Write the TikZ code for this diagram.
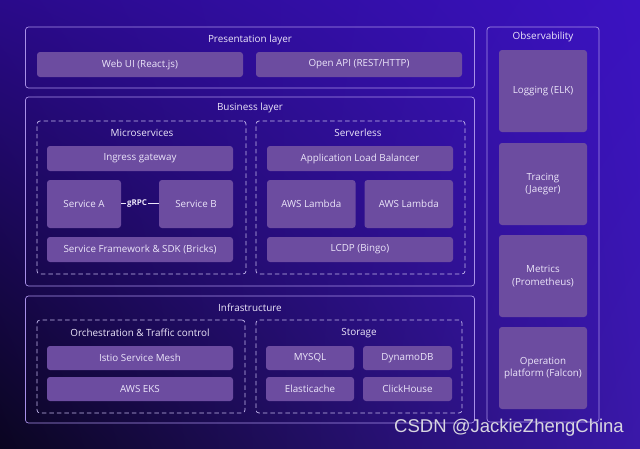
\documentclass[tikz,border=0pt]{standalone}
\usepackage{fontspec}
\usetikzlibrary{shadings}
\setmainfont{Open Sans}
\newfontfamily\wmfont{Liberation Sans}
\begin{document}
\begin{tikzpicture}[x=1pt,y=-1pt,
  every node/.style={inner sep=0pt, outer sep=0pt},
  layerbox/.style={draw=edgecol, line width=0.7pt, rounded corners=3pt},
  groupbox/.style={draw=dashcol, line width=0.7pt, dash pattern=on 4.5pt off 3pt, rounded corners=3pt},
  itembox/.style={fill=itemcol, rounded corners=3pt, text=txtcol, font=\fontsize{9.8}{12.5}\selectfont, align=center},
  titletxt/.style={text=txtcol, font=\fontsize{9.9}{12}\selectfont},
  linkline/.style={draw=txtcol, line width=0.6pt}
]
\definecolor{bgUL}{HTML}{2A0A8A}
\definecolor{bgUR}{HTML}{3B12C2}
\definecolor{bgLL}{HTML}{0A0520}
\definecolor{bgLR}{HTML}{3A18A8}
\definecolor{edgecol}{HTML}{A890E8}
\definecolor{dashcol}{HTML}{C4B8EC}
\definecolor{itemcol}{HTML}{6C4CA0}
\definecolor{txtcol}{HTML}{ECE6FA}
\definecolor{wmcol}{HTML}{D8D6E0}

\shade[upper left=bgUL, upper right=bgUR, lower left=bgLL, lower right=bgLR] (0,0) rectangle (640,448);
\useasboundingbox (0,0) rectangle (640,448);

% Presentation layer
\node[layerbox, minimum width=449pt, minimum height=61pt] (pres) at (250,57.5) {};
\node[titletxt] (prest) at (250,40) {Presentation layer};
\node[itembox, minimum width=206pt, minimum height=25pt] (webui) at (140,64.5) {Web UI (React.js)};
\node[itembox, minimum width=206pt, minimum height=25pt] (openapi) at (359,64.5) {Open API (REST/HTTP)};

% Business layer
\node[layerbox, minimum width=449pt, minimum height=189pt] (bus) at (250,191.5) {};
\node[titletxt] (bust) at (250,108) {Business layer};
\node[groupbox, minimum width=209pt, minimum height=153pt] (micro) at (141.5,197.5) {};
\node[titletxt] (microt) at (142,133) {Microservices};
\node[itembox, minimum width=186pt, minimum height=25pt] (ingress) at (140,158.5) {Ingress gateway};
\node[itembox, minimum width=74pt, minimum height=48pt] (sa) at (84,204) {Service A};
\node[itembox, minimum width=74pt, minimum height=48pt] (sb) at (196,204) {Service B};
\node[text=txtcol, font=\bfseries\fontsize{8}{9}\selectfont, inner xsep=1.2pt] (grpc) at (137,203.5) {gRPC};
\draw[linkline] (sa.east |- grpc) -- (grpc.west);
\draw[linkline] (grpc.east) -- (sb.west |- grpc);
\node[itembox, minimum width=186pt, minimum height=25pt] (sdk) at (140,249.5) {Service Framework \& SDK (Bricks)};

\node[groupbox, minimum width=209pt, minimum height=153pt] (serverless) at (360.5,197.5) {};
\node[titletxt] (serverlesst) at (358,133) {Serverless};
\node[itembox, minimum width=186pt, minimum height=25pt] (alb) at (360,158.5) {Application Load Balancer};
\node[itembox, minimum width=88.5pt, minimum height=48pt] (lam1) at (311.25,204) {AWS Lambda};
\node[itembox, minimum width=88.5pt, minimum height=48pt] (lam2) at (408.75,204) {AWS Lambda};
\node[itembox, minimum width=186pt, minimum height=25pt] (lcdp) at (360,249.5) {LCDP (Bingo)};

% Infrastructure
\node[layerbox, minimum width=449pt, minimum height=127pt] (infra) at (250,359.5) {};
\node[titletxt] (infrat) at (250,308) {Infrastructure};
\node[groupbox, minimum width=208pt, minimum height=93pt] (orch) at (141,366.5) {};
\node[titletxt] (orcht) at (140,333) {Orchestration \& Traffic control};
\node[itembox, minimum width=186pt, minimum height=24pt] (istio) at (140,358) {Istio Service Mesh};
\node[itembox, minimum width=186pt, minimum height=24pt] (eks) at (140,389) {AWS EKS};

\node[groupbox, minimum width=206pt, minimum height=93pt] (storage) at (359,366.5) {};
\node[titletxt] (storaget) at (359,333) {Storage};
\node[itembox, minimum width=88pt, minimum height=24pt] (mysql) at (310,358) {MYSQL};
\node[itembox, minimum width=89pt, minimum height=24pt] (dynamo) at (407.5,358) {DynamoDB};
\node[itembox, minimum width=88pt, minimum height=24pt] (elastic) at (310,389) {Elasticache};
\node[itembox, minimum width=89pt, minimum height=24pt] (click) at (407.5,389) {ClickHouse};

% Observability
\node[layerbox, minimum width=112pt, minimum height=395pt] (obs) at (543,224.5) {};
\node[titletxt] (obst) at (543,37) {Observability};
\node[itembox, minimum width=88pt, minimum height=82pt] (logging) at (543,91) {Logging (ELK)};
\node[itembox, minimum width=88pt, minimum height=82pt] (tracing) at (543,184) {Tracing\\(Jaeger)};
\node[itembox, minimum width=88pt, minimum height=82pt] (metrics) at (543,276) {Metrics\\(Prometheus)};
\node[itembox, minimum width=88pt, minimum height=82pt] (oper) at (543,368) {Operation\\platform (Falcon)};

% Watermark
\node[text=wmcol, font=\wmfont\fontsize{18.5}{20}\selectfont] (wm) at (509,428) {CSDN @JackieZhengChina};
\end{tikzpicture}
\end{document}
